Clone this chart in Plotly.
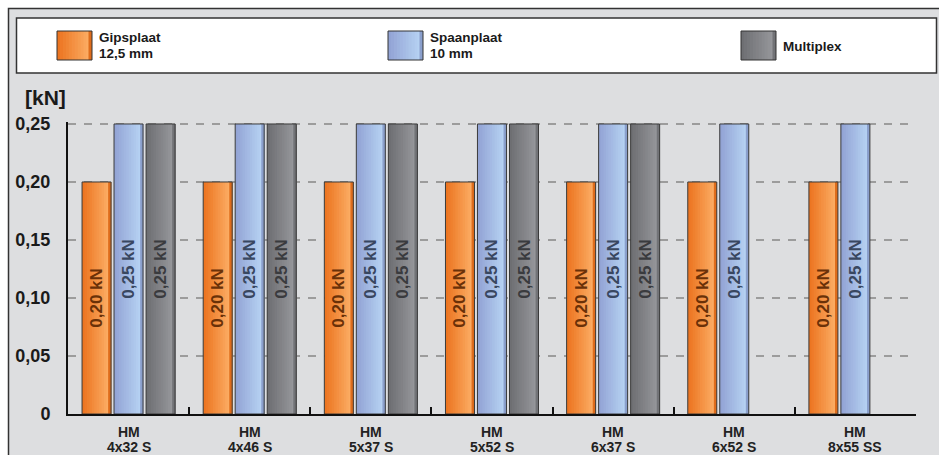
import plotly.graph_objects as go

# ---------------- data ----------------
categories = ["HM 4x32 S", "HM 4x46 S", "HM 5x37 S", "HM 5x52 S",
              "HM 6x37 S", "HM 6x52 S", "HM 8x55 SS"]
gipsplaat = [0.20, 0.20, 0.20, 0.20, 0.20, 0.20, 0.20]
spaanplaat = [0.25, 0.25, 0.25, 0.25, 0.25, 0.25, 0.25]
multiplex = [0.25, 0.25, 0.25, 0.25, 0.25, None, None]
legend_lines = [["Gipsplaat", "12,5 mm"], ["Spaanplaat", "10 mm"], ["Multiplex"]]
ytick_vals = [0, 0.05, 0.10, 0.15, 0.20, 0.25]
ytick_text = ["0", "0,05", "0,10", "0,15", "0,20", "0,25"]
y_unit = "[kN]"

# ---------------- layout geometry (page pixels) ----------------
W, H = 939, 455
Y_MAX = 0.2517
L, R, T, B = 68, 939 - 916, 122, 455 - 414
PW, PH = W - L - R, H - T - B


def xp(px):
    return (px - L) / PW


def yp(py):
    return (H - B - py) / PH


def hex2rgb(h):
    h = h.lstrip("#")
    return tuple(int(h[i:i + 2], 16) for i in (0, 2, 4))


def mix(a, b, t):
    ra, rb = hex2rgb(a), hex2rgb(b)
    return "rgb(%d,%d,%d)" % tuple(round(ra[i] + (rb[i] - ra[i]) * t) for i in range(3))


BW = 0.2394
styles = [
    dict(values=gipsplaat, off=-0.384, c0="#ec7521", c1="#fbab62", ce="#de6c1b", tc="#6a3108"),
    dict(values=spaanplaat, off=-0.120, c0="#93a4d5", c1="#b5d1f2", ce="#8a9fcc", tc="#394760"),
    dict(values=multiplex, off=0.1445, c0="#6e6f73", c1="#95969a", ce="#727377", tc="#3a3b3e"),
]

FONT = "Liberation Sans, Arial, Helvetica, sans-serif"

fig = go.Figure()
N = 10
for s in styles:
    vals = s["values"]
    gw = 0.84 * BW
    for k in range(N + 1):
        t = k / N
        fig.add_trace(go.Bar(
            x=categories, y=vals, offset=s["off"] + t * gw, width=BW - t * gw,
            marker=dict(color=mix(s["c0"], s["c1"], t), line=dict(width=0)),
            hoverinfo="skip", showlegend=False))
    fig.add_trace(go.Bar(
        x=categories, y=vals, offset=s["off"] + 0.9 * BW, width=0.1 * BW,
        marker=dict(color=s["ce"], line=dict(width=0)),
        hoverinfo="skip", showlegend=False))
    labels = [("%.2f kN" % v).replace(".", ",") if v is not None else "" for v in vals]
    fig.add_trace(go.Bar(
        x=categories, y=vals, offset=s["off"], width=BW,
        marker=dict(color="rgba(0,0,0,0)", line=dict(color="#3a3a3a", width=1)),
        text=labels, textposition="inside", insidetextanchor="middle", textangle=-90,
        textfont=dict(family=FONT, size=17, color=s["tc"], weight="bold"),
        constraintext="none", cliponaxis=False,
        hoverinfo="skip", showlegend=False))

shapes = []
annotations = []
# outer grey frame
shapes.append(dict(type="rect", xref="paper", yref="paper", layer="below",
                   x0=xp(8.5), x1=xp(960), y0=yp(8.5), y1=yp(470),
                   fillcolor="#dddee0", line=dict(color="#333333", width=1.5)))
# legend box
shapes.append(dict(type="rect", xref="paper", yref="paper", layer="below",
                   x0=xp(16.5), x1=xp(936.5), y0=yp(18), y1=yp(73),
                   fillcolor="#ffffff", line=dict(color="#333333", width=1.5)))

swatch_x = [57, 388, 741]
for s, sx, lines in zip(styles, swatch_x, legend_lines):
    sw = 35
    gw = 0.84 * sw
    for k in range(N + 1):
        t = k / N
        shapes.append(dict(type="rect", xref="paper", yref="paper",
                           x0=xp(sx + t * gw), x1=xp(sx + sw), y0=yp(31), y1=yp(60),
                           fillcolor=mix(s["c0"], s["c1"], t), line=dict(width=0)))
    shapes.append(dict(type="rect", xref="paper", yref="paper",
                       x0=xp(sx + 0.9 * sw), x1=xp(sx + sw), y0=yp(31), y1=yp(60),
                       fillcolor=s["ce"], line=dict(width=0)))
    shapes.append(dict(type="rect", xref="paper", yref="paper",
                       x0=xp(sx), x1=xp(sx + sw), y0=yp(31), y1=yp(60),
                       fillcolor="rgba(0,0,0,0)", line=dict(color="#333333", width=1)))
    if len(lines) == 2:
        ys = [37.5, 53.5]
    else:
        ys = [47]
    for ln, yy in zip(lines, ys):
        annotations.append(dict(text=ln, xref="paper", yref="paper",
                                x=xp(sx + sw + 5), y=yp(yy), xanchor="left", yanchor="middle",
                                showarrow=False,
                                font=dict(family=FONT, size=13.5, color="#1a1a1a", weight="bold")))

# unit label
annotations.append(dict(text=y_unit, xref="paper", yref="paper", x=xp(23), y=yp(97),
                        xanchor="left", yanchor="middle", showarrow=False,
                        font=dict(family=FONT, size=21, color="#1a1a1a", weight="bold")))

# category labels (two lines, tight spacing)
for c in categories:
    first, second = c.split(" ", 1)
    annotations.append(dict(text=first, xref="x", yref="paper", x=c, y=yp(431.5),
                            xanchor="center", yanchor="middle", showarrow=False,
                            font=dict(family=FONT, size=14, color="#222222", weight="bold")))
    annotations.append(dict(text=second, xref="x", yref="paper", x=c, y=yp(446.5),
                            xanchor="center", yanchor="middle", showarrow=False,
                            font=dict(family=FONT, size=14, color="#222222", weight="bold")))

fig.update_layout(
    width=W, height=H,
    margin=dict(l=L, r=R, t=T, b=B, pad=0),
    paper_bgcolor="#ffffff",
    plot_bgcolor="rgba(0,0,0,0)",
    barmode="overlay",
    showlegend=False,
    shapes=shapes,
    annotations=annotations,
    xaxis=dict(type="category", range=[-0.5, 6.5], showgrid=False, zeroline=False,
               showline=True, linecolor="#111111", linewidth=2,
               ticks="inside", tickson="boundaries", ticklen=7, tickwidth=2, tickcolor="#111111",
               showticklabels=False, fixedrange=True),
    yaxis=dict(range=[0, Y_MAX], tickvals=ytick_vals, ticktext=ytick_text,
               showgrid=True, gridcolor="#9c9c9c", gridwidth=1.5, griddash="8px,8px",
               zeroline=False, showline=True, linecolor="#111111", linewidth=2,
               ticks="", ticklabelstandoff=12,
               tickfont=dict(family=FONT, size=18, color="#1a1a1a", weight="bold"),
               fixedrange=True),
)

fig.write_html(
    "out.html",
    config={"displayModeBar": False},
    post_script="document.body.style.margin='0';document.body.style.overflow='hidden';",
)
